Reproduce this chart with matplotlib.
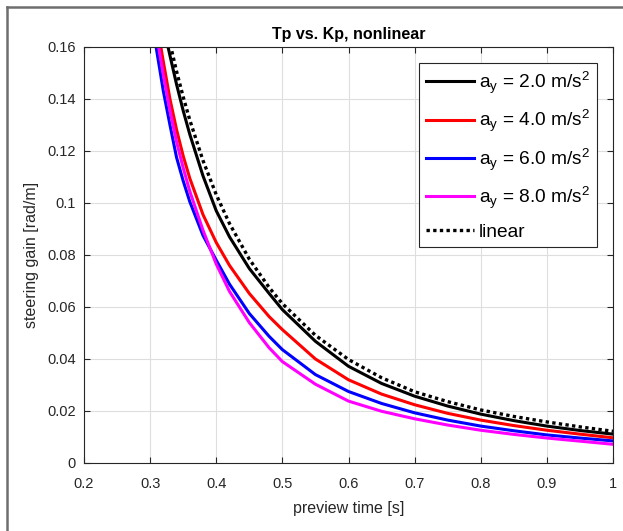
import matplotlib
matplotlib.use('Agg')
import matplotlib.pyplot as plt
from matplotlib.lines import Line2D

plt.rcParams['font.family'] = ['Liberation Sans', 'DejaVu Sans']
plt.rcParams['mathtext.fontset'] = 'custom'
plt.rcParams['mathtext.rm'] = 'Liberation Sans'
plt.rcParams['mathtext.it'] = 'Liberation Sans'

# preview time [s]
tp = [0.30, 0.31, 0.32, 0.33, 0.34, 0.35, 0.36, 0.38, 0.40, 0.42, 0.45, 0.48,
      0.50, 0.55, 0.60, 0.65, 0.70, 0.75, 0.80, 0.85, 0.90, 0.95, 1.00]

# steering gain [rad/m]
kp_ay2 = [0.1940, 0.1804, 0.1680, 0.1567, 0.1456, 0.1355, 0.1264, 0.1104, 0.0970, 0.0870, 0.0748, 0.0652,
          0.0590, 0.0468, 0.0372, 0.0306, 0.0257, 0.0219, 0.0188, 0.0163, 0.0142, 0.0125, 0.0111]
kp_ay4 = [0.1860, 0.1693, 0.1543, 0.1400, 0.1282, 0.1181, 0.1095, 0.0955, 0.0848, 0.0760, 0.0652, 0.0563,
          0.0513, 0.0400, 0.0320, 0.0265, 0.0224, 0.0191, 0.0165, 0.0144, 0.0126, 0.0111, 0.0097]
kp_ay6 = [0.1750, 0.1585, 0.1430, 0.1300, 0.1175, 0.1085, 0.1005, 0.0875, 0.0780, 0.0688, 0.0575, 0.0487,
          0.0436, 0.0340, 0.0275, 0.0229, 0.0193, 0.0165, 0.0142, 0.0124, 0.0108, 0.0096, 0.0085]
kp_ay8 = [0.1820, 0.1645, 0.1492, 0.1355, 0.1235, 0.1135, 0.1045, 0.0895, 0.0765, 0.0660, 0.0540, 0.0443,
          0.0390, 0.0303, 0.0238, 0.0199, 0.0170, 0.0146, 0.0126, 0.0110, 0.0096, 0.0084, 0.0072]
kp_linear = [0.2016, 0.1870, 0.1736, 0.1615, 0.1506, 0.1408, 0.1319, 0.1163, 0.1032, 0.0921, 0.0784, 0.0675,
             0.0613, 0.0491, 0.0398, 0.0328, 0.0274, 0.0236, 0.0204, 0.0179, 0.0158, 0.0139, 0.0122]

labels = [r'a$_\mathregular{y}$ = 2.0 m/s$^\mathregular{2}$',
          r'a$_\mathregular{y}$ = 4.0 m/s$^\mathregular{2}$',
          r'a$_\mathregular{y}$ = 6.0 m/s$^\mathregular{2}$',
          r'a$_\mathregular{y}$ = 8.0 m/s$^\mathregular{2}$',
          'linear']
colors = ['black', 'red', 'blue', 'magenta']

fig = plt.figure(figsize=(6.23, 5.31), dpi=100)
ax = fig.add_axes([84/623, 68/531, 529/623, 416/531])

for kp, c, lab in zip([kp_ay2, kp_ay4, kp_ay6, kp_ay8], colors, labels[:4]):
    ax.plot(tp, kp, color=c, lw=2.2, label=lab)
ax.plot(tp, kp_linear, color='black', lw=2.4, linestyle=(0, (1, 1)), label=labels[4])

ax.set_xlim(0.2, 1.0)
ax.set_ylim(0, 0.16)
ax.set_xticks([0.2, 0.3, 0.4, 0.5, 0.6, 0.7, 0.8, 0.9, 1.0])
ax.set_xticklabels(['0.2', '0.3', '0.4', '0.5', '0.6', '0.7', '0.8', '0.9', '1'])
ax.set_yticks([0, 0.02, 0.04, 0.06, 0.08, 0.1, 0.12, 0.14, 0.16])
ax.set_yticklabels(['0', '0.02', '0.04', '0.06', '0.08', '0.1', '0.12', '0.14', '0.16'])
ax.grid(True, color='#dedede', lw=0.8)
ax.set_axisbelow(True)
ax.tick_params(direction='in', top=True, right=True, labelsize=10.5, colors='#262626',
               length=4, width=0.8)
ax.tick_params(axis='x', pad=10)
ax.tick_params(axis='y', pad=6)
for s in ax.spines.values():
    s.set_color('#262626')
    s.set_linewidth(0.8)

ax.set_title('Tp vs. Kp, nonlinear', fontsize=11.5, fontweight='bold', pad=6)
ax.set_xlabel('preview time [s]', fontsize=11.5, color='#262626', labelpad=7)
ax.set_ylabel('steering gain [rad/m]', fontsize=11.5, color='#262626', labelpad=6)

leg = ax.legend(loc='upper right', bbox_to_anchor=(597/623, 468/531),
                bbox_transform=fig.transFigure, borderaxespad=0, fontsize=13.8,
                handlelength=2.5, labelspacing=0.63, fancybox=False, framealpha=1,
                edgecolor='#262626', handletextpad=0.26, borderpad=0.35)
leg.get_frame().set_linewidth(0.8)

# screenshot frame
fig.add_artist(Line2D([7/623, 7/623], [0, 1 - 7/531], color='#6e6e6e', lw=1.8))
fig.add_artist(Line2D([7/623, 1], [1 - 7/531, 1 - 7/531], color='#6e6e6e', lw=1.8))

fig.savefig('out.png', dpi=100)
